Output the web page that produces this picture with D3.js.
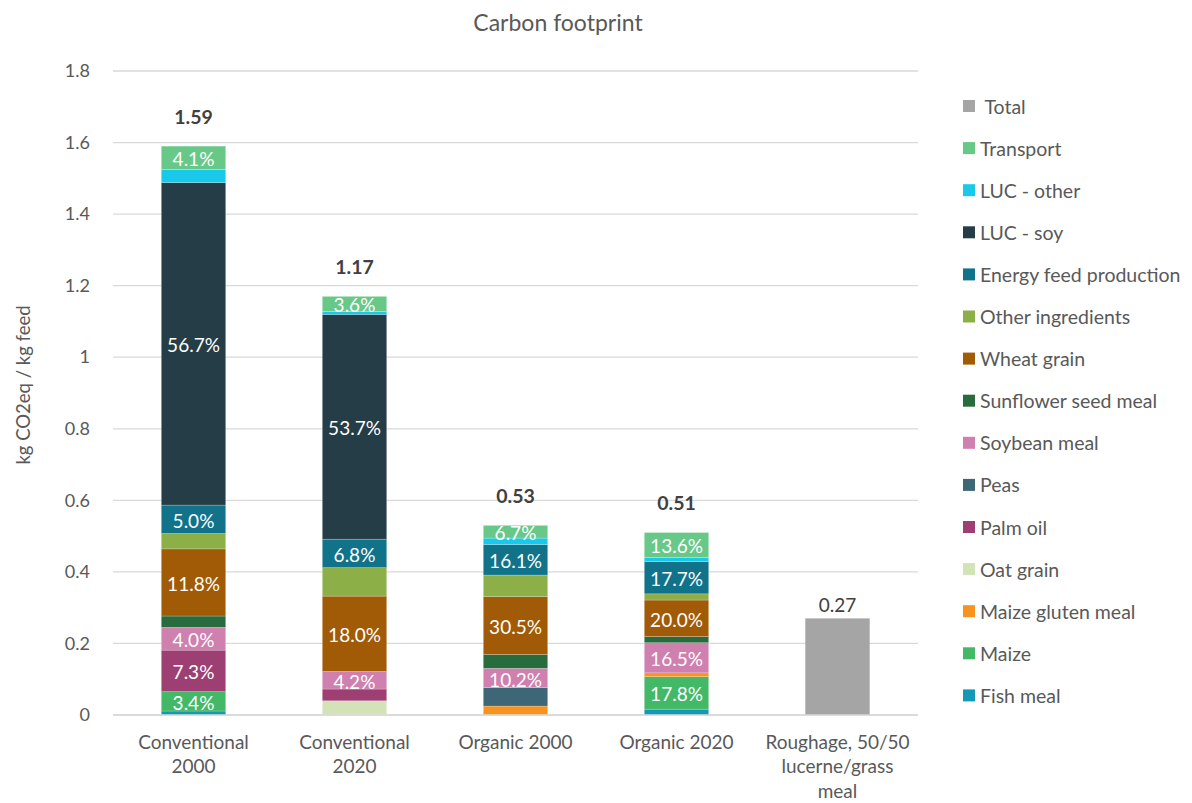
<!DOCTYPE html>
<html>
<head>
<meta charset="utf-8">
<script src="https://cdn.jsdelivr.net/npm/d3@7"></script>
<style>
  html, body { margin: 0; padding: 0; background: #fff; }
  svg { display: block; font-family: Lato, "Open Sans", sans-serif; }
</style>
</head>
<body>
<svg id="chart" width="1192" height="803"></svg>
<script>
// Feed types on the x axis
const categories = ["Conventional 2000", "Conventional 2020", "Organic 2000", "Organic 2020", "Roughage, 50/50 lucerne/grass meal"];
const categoryLines = [["Conventional", "2000"], ["Conventional", "2020"], ["Organic 2000"], ["Organic 2020"], ["Roughage, 50/50", "lucerne/grass", "meal"]];

// Total footprint per feed (kg CO2eq / kg feed)
const totals = [1.59, 1.17, 0.53, 0.51, 0.27];

// Stack order, bottom to top
const series = ["Fish meal", "Maize", "Maize gluten meal", "Oat grain", "Palm oil", "Peas", "Soybean meal",
  "Sunflower seed meal", "Wheat grain", "Other ingredients", "Energy feed production", "LUC - soy", "LUC - other", "Transport"];

// Share of each contributor in the total (%) for the four compound feeds
const fishMeal          = [0.7, 0.0, 0.0, 3.2];
const maize             = [3.4, 0.0, 0.0, 17.8];
const maizeGlutenMeal   = [0.0, 0.0, 4.7, 2.1];
const oatGrain          = [0.0, 3.4, 0.0, 0.0];
const palmOil           = [7.3, 2.8, 0.0, 0.0];
const peas              = [0.0, 0.0, 9.7, 0.0];
const soybeanMeal       = [4.0, 4.2, 10.2, 16.5];
const sunflowerSeedMeal = [2.0, 0.0, 7.3, 3.4];
const wheatGrain        = [11.8, 18.0, 30.5, 20.0];
const otherIngredients  = [2.7, 6.8, 11.4, 3.4];
const energyFeed        = [5.0, 6.8, 16.1, 17.7];
const lucSoy            = [56.7, 53.7, 0.0, 0.0];
const lucOther          = [2.3, 0.7, 3.4, 2.3];
const transport         = [4.1, 3.6, 6.7, 13.6];
const shares = [fishMeal, maize, maizeGlutenMeal, oatGrain, palmOil, peas, soybeanMeal,
  sunflowerSeedMeal, wheatGrain, otherIngredients, energyFeed, lucSoy, lucOther, transport];

// Contributors whose share is printed on the bar
const labelled = [
  ["Maize", "Palm oil", "Soybean meal", "Wheat grain", "Energy feed production", "LUC - soy", "Transport"],
  ["Soybean meal", "Wheat grain", "Energy feed production", "LUC - soy", "Transport"],
  ["Soybean meal", "Wheat grain", "Energy feed production", "Transport"],
  ["Maize", "Soybean meal", "Wheat grain", "Energy feed production", "Transport"]
];

const yTicks = [0, 0.2, 0.4, 0.6, 0.8, 1, 1.2, 1.4, 1.6, 1.8];

const colors = {
  "Total": "#A5A5A5",
  "Transport": "#68C888",
  "LUC - other": "#19C9E9",
  "LUC - soy": "#253D46",
  "Energy feed production": "#11738A",
  "Other ingredients": "#8DAF47",
  "Wheat grain": "#A15A05",
  "Sunflower seed meal": "#286B3C",
  "Soybean meal": "#CF80AE",
  "Peas": "#3D6676",
  "Palm oil": "#9D3F72",
  "Oat grain": "#D3E3B7",
  "Maize gluten meal": "#F7931F",
  "Maize": "#43B867",
  "Fish meal": "#1399B5"
};
const legendOrder = ["Total", "Transport", "LUC - other", "LUC - soy", "Energy feed production", "Other ingredients",
  "Wheat grain", "Sunflower seed meal", "Soybean meal", "Peas", "Palm oil", "Oat grain", "Maize gluten meal", "Maize", "Fish meal"];

const svg = d3.select("#chart");
const margin = { left: 113, right: 274, top: 71, bottom: 88 };
const W = 1192, H = 803;

const x = d3.scaleBand().domain(categories).range([margin.left, W - margin.right]).paddingInner(0.6).paddingOuter(0.3);
const y = d3.scaleLinear().domain([0, 1.8]).range([H - margin.bottom, margin.top]);

// Gridlines
svg.append("g")
  .selectAll("line").data(yTicks).join("line")
  .attr("x1", margin.left).attr("x2", W - margin.right)
  .attr("y1", d => y(d)).attr("y2", d => y(d))
  .attr("stroke", "#D9D9D9").attr("stroke-width", 1.3);

// Y axis labels
const yAxis = svg.append("g")
  .attr("transform", `translate(${margin.left - 20},0)`)
  .call(d3.axisLeft(y).tickValues(yTicks).tickSize(0).tickFormat(d3.format("~g")));
yAxis.select(".domain").remove();
yAxis.selectAll("text").attr("font-size", 18).attr("fill", "#595959")
  .attr("font-family", "Lato, 'Open Sans', sans-serif").attr("dx", 0);

// Y axis title
svg.append("text")
  .attr("transform", `translate(23,385) rotate(-90)`)
  .attr("text-anchor", "middle").attr("dominant-baseline", "central")
  .attr("font-size", 18.5).attr("fill", "#595959")
  .text("kg CO2eq / kg feed");

// Chart title
svg.append("text")
  .attr("x", 558).attr("y", 22)
  .attr("text-anchor", "middle").attr("dominant-baseline", "central")
  .attr("font-size", 23).attr("fill", "#595959")
  .text("Carbon footprint");

// Build stacked segments from shares and totals
const segs = [];
categories.slice(0, 4).forEach((c, ci) => {
  let base = 0;
  series.forEach((s, si) => {
    const pct = shares[si][ci];
    if (pct <= 0) return;
    const v = pct / 100 * totals[ci];
    segs.push({ cat: c, ci, series: s, pct, y0: base, y1: base + v, label: labelled[ci].includes(s) });
    base += v;
  });
});

const bw = x.bandwidth();
svg.append("g").selectAll("rect").data(segs).join("rect")
  .attr("x", d => x(d.cat)).attr("width", bw)
  .attr("y", d => y(d.y1)).attr("height", d => y(d.y0) - y(d.y1))
  .attr("fill", d => colors[d.series])
  .attr("stroke", "#ffffff").attr("stroke-opacity", 0.35).attr("stroke-width", 0.6);

svg.append("g").selectAll("text").data(segs.filter(d => d.label)).join("text")
  .attr("x", d => x(d.cat) + bw / 2)
  .attr("y", d => y((d.y0 + d.y1) / 2) + 1)
  .attr("text-anchor", "middle").attr("dominant-baseline", "central")
  .attr("font-size", 19).attr("fill", "#ffffff")
  .text(d => d.pct.toFixed(1) + "%");

// Total labels above the compound-feed stacks
svg.append("g").selectAll("text").data(categories.slice(0, 4)).join("text")
  .attr("x", d => x(d) + bw / 2)
  .attr("y", (d, i) => y(totals[i]) - 30)
  .attr("text-anchor", "middle").attr("dominant-baseline", "central")
  .attr("font-size", 19.5).attr("font-weight", "bold").attr("fill", "#404040")
  .text((d, i) => totals[i].toFixed(2));

// Roughage total bar
const rc = categories[4];
svg.append("rect")
  .attr("x", x(rc)).attr("width", bw)
  .attr("y", y(totals[4])).attr("height", y(0) - y(totals[4]))
  .attr("fill", colors["Total"]);
svg.append("text")
  .attr("x", x(rc) + bw / 2).attr("y", y(totals[4]) - 14)
  .attr("text-anchor", "middle").attr("dominant-baseline", "central")
  .attr("font-size", 19).attr("fill", "#404040")
  .text(totals[4].toFixed(2));

// X axis line
svg.append("line")
  .attr("x1", margin.left).attr("x2", W - margin.right)
  .attr("y1", y(0)).attr("y2", y(0))
  .attr("stroke", "#D9D9D9").attr("stroke-width", 1.3);

// X category labels
const xl = svg.append("g").selectAll("text").data(categories).join("text")
  .attr("text-anchor", "middle").attr("font-size", 19).attr("fill", "#595959");
xl.each(function (d, i) {
  const t = d3.select(this);
  categoryLines[i].forEach((line, li) => {
    t.append("tspan").attr("x", x(d) + bw / 2).attr("y", 749 + li * 24.3).text(line);
  });
});

// Legend
const lg = svg.append("g").selectAll("g").data(legendOrder).join("g")
  .attr("transform", (d, i) => `translate(963,${106 + i * 42.1})`);
lg.append("rect").attr("x", 0).attr("y", -6).attr("width", 12).attr("height", 12)
  .attr("fill", d => colors[d]);
lg.append("text").attr("x", 17).attr("y", 0)
  .attr("dominant-baseline", "central").attr("font-size", 19.5).attr("fill", "#595959")
  .attr("xml:space", "preserve")
  .text(d => d === "Total" ? " Total" : d);
</script>
</body>
</html>
